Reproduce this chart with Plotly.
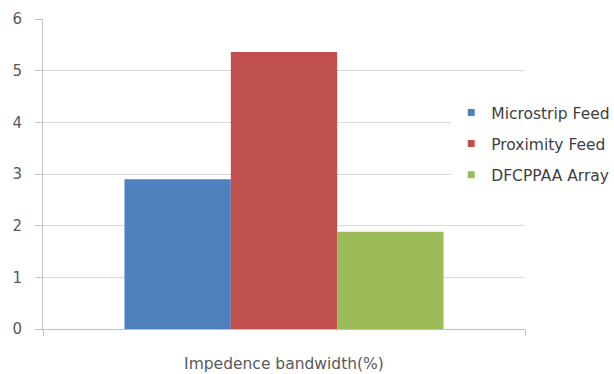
import plotly.graph_objects as go

# Impedance bandwidth of each feed configuration
category = ["Impedence bandwidth(%)"]
series_names = ["Microstrip Feed", "Proximity Feed", "DFCPPAA Array"]
series_values = [2.9, 5.36, 1.88]
series_colors = ["#4f81bd", "#c0504d", "#9bbb59"]
y_ticks = [0, 1, 2, 3, 4, 5, 6]

FONT = "DejaVu Sans"
TEXT_GRAY = "#595959"
LINE_GRAY = "#bfbfbf"
GRID_GRAY = "#d9d9d9"

fig = go.Figure()

for name, val, color in zip(series_names, series_values, series_colors):
    fig.add_trace(go.Bar(
        x=category, y=[val], name=name,
        marker=dict(color=color, line=dict(width=0)),
        showlegend=False, legendgroup=name,
    ))

# Small square legend swatches
for name, color in zip(series_names, series_colors):
    fig.add_trace(go.Scatter(
        x=[None], y=[None], mode="markers", name=name, legendgroup=name,
        marker=dict(symbol="square", size=7, color=color),
        showlegend=True,
    ))

fig.update_layout(
    width=614, height=374,
    margin=dict(l=43, r=89, t=19, b=45, autoexpand=False),
    paper_bgcolor="white", plot_bgcolor="white",
    barmode="group", bargap=0.338, bargroupgap=0,
    font=dict(family=FONT, size=15, color=TEXT_GRAY),
    legend=dict(
        x=0.847, y=0.752, xanchor="left", yanchor="top",
        bgcolor="white", borderwidth=0,
        traceorder="grouped", tracegroupgap=8,
        font=dict(family=FONT, size=15.5, color="#404040"),
        itemwidth=30,
    ),
)

fig.update_yaxes(
    range=[0, 6], tickvals=y_ticks, automargin=False,
    showgrid=True, gridcolor=GRID_GRAY, gridwidth=1,
    zeroline=False,
    showline=True, linecolor=LINE_GRAY, linewidth=1,
    ticks="outside", ticklen=7, tickcolor=LINE_GRAY,
    ticklabelstandoff=10,
    tickfont=dict(family=FONT, size=15, color=TEXT_GRAY),
)
fig.update_xaxes(
    type="category", automargin=False,
    showline=True, linecolor=LINE_GRAY, linewidth=1,
    ticks="outside", ticklen=6, tickcolor=LINE_GRAY,
    tickson="boundaries",
    ticklabelstandoff=20,
    tickfont=dict(family=FONT, size=15.5, color=TEXT_GRAY),
    showgrid=False,
)

fig.write_html("out.html")
